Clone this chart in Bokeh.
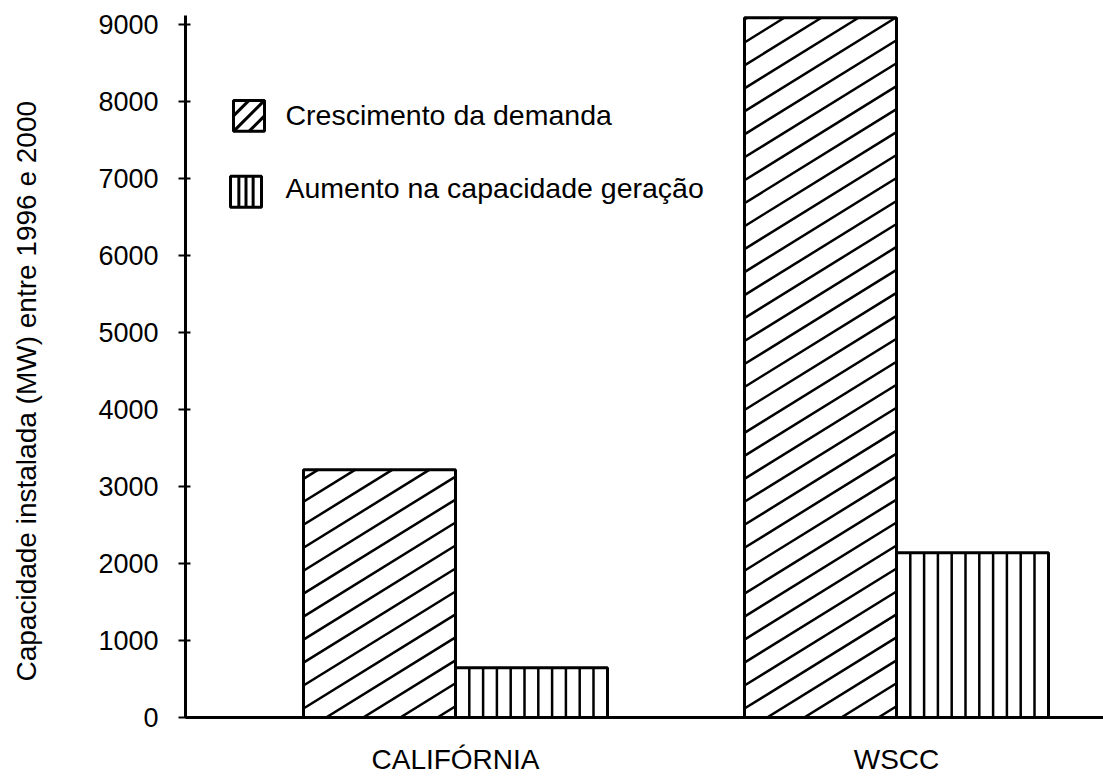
from bokeh.plotting import figure
from bokeh.models import Range1d, FixedTicker, Label, Title
from bokeh.embed import file_html
from bokeh.resources import INLINE

# ---------------- data ----------------
categories = ["CALIFÓRNIA", "WSCC"]
cat_pos = [1, 2]
demanda = [3220, 9090]          # Crescimento da demanda (MW)
geracao = [645, 2140]           # Aumento na capacidade geração (MW)
series_names = ["Crescimento da demanda", "Aumento na capacidade geração"]
y_ticks = [0, 1000, 2000, 3000, 4000, 5000, 6000, 7000, 8000, 9000]
y_title = "Capacidade instalada (MW) entre 1996 e 2000"

# ---------------- layout ----------------
W, H = 1103, 777
FL, FR, FT, FB = 185, 1103, 15, 718          # frame edges in figure px
frame_w, frame_h = FR - FL, FB - FT
X_PX = 441.0                                 # px per category unit
first_group_px = 270.0                       # first group center from frame left
x_start = cat_pos[0] - first_group_px / X_PX
x_end = x_start + frame_w / X_PX
y_end = 9120.0
Y_PX = frame_h / y_end
BAR_W = 152.0 / X_PX

FONT = "Liberation Sans"


def px2x(px):
    return x_start + (px - FL) / X_PX


def py2y(py):
    return (FB - py) / Y_PX


p = figure(width=W, height=H,
           x_range=Range1d(x_start, x_end), y_range=Range1d(0, y_end),
           output_backend="svg", toolbar_location=None,
           min_border_left=FL, min_border_right=W - FR,
           min_border_top=FT, min_border_bottom=H - FB)
p.outline_line_color = None
p.xgrid.grid_line_color = None
p.ygrid.grid_line_color = None
p.background_fill_color = "white"
p.border_fill_color = "white"

# y axis
ya = p.yaxis[0]
ya.ticker = FixedTicker(ticks=y_ticks, minor_ticks=[])
ya.axis_line_width = 3
ya.axis_line_color = "black"
ya.major_tick_line_width = 2
ya.major_tick_line_color = "black"
ya.major_tick_in = 5
ya.major_tick_out = 7
ya.minor_tick_line_color = None
ya.major_label_standoff = 20
ya.major_label_text_font = FONT
ya.major_label_text_font_size = "27px"
ya.major_label_text_color = "black"

# x axis with category names
xa = p.xaxis[0]
xa.ticker = FixedTicker(ticks=cat_pos, minor_ticks=[])
xa.major_label_overrides = {c: n for c, n in zip(cat_pos, categories)}
xa.axis_line_width = 3
xa.axis_line_color = "black"
xa.major_tick_line_color = None
xa.minor_tick_line_color = None
xa.major_tick_in = 0
xa.major_tick_out = 0
xa.major_label_text_font = FONT
xa.major_label_text_font_size = "28px"
xa.major_label_text_color = "black"
xa.major_label_standoff = 26

# y title on the left side (padding pushes it away from the axis)
p.add_layout(Title(text=y_title, align="left", offset=36, vertical_align="middle",
                   text_font=FONT, text_font_size="28px", text_font_style="normal",
                   text_color="black", standoff=0,
                   padding=dict(left=0, right=0, top=0, bottom=106)), "left")

# ---------------- bars ----------------
dem_left = [c - BAR_W for c in cat_pos]
dem_right = list(cat_pos)
gen_left = list(cat_pos)
gen_right = [c + BAR_W for c in cat_pos]

p.quad(left=dem_left, right=dem_right, bottom=[0] * len(demanda), top=demanda,
       fill_color="white", line_color=None)
p.quad(left=gen_left, right=gen_right, bottom=[0] * len(geracao), top=geracao,
       fill_color="white", line_color=None)

# diagonal hatch for demand bars
SLOPE = 0.62
DV = 23.0
C0 = -14.0
dx0, dy0, dx1, dy1 = [], [], [], []
for left, top in zip(dem_left, demanda):
    bw = BAR_W * X_PX
    bh = top * Y_PX
    k = -20
    while True:
        c = C0 + k * DV
        k += 1
        if c >= bh:
            break
        if c <= -SLOPE * bw:
            continue
        xlo = max(0.0, -c / SLOPE)
        xhi = min(bw, (bh - c) / SLOPE)
        if xhi <= xlo:
            continue
        dx0.append(left + xlo / X_PX)
        dy0.append((SLOPE * xlo + c) / Y_PX)
        dx1.append(left + xhi / X_PX)
        dy1.append((SLOPE * xhi + c) / Y_PX)
p.segment(x0=dx0, y0=dy0, x1=dx1, y1=dy1, line_color="black", line_width=2.5)

# vertical hatch for generation bars
VSP = 13.8
vx, vy0, vy1 = [], [], []
for left, top in zip(gen_left, geracao):
    bw = BAR_W * X_PX
    k = 1
    while k * VSP < bw - 4:
        vx.append(left + k * VSP / X_PX)
        vy0.append(0)
        vy1.append(top)
        k += 1
p.segment(x0=vx, y0=vy0, x1=vx, y1=vy1, line_color="black", line_width=2.5)

# outlines
p.quad(left=dem_left, right=dem_right, bottom=[0] * len(demanda), top=demanda,
       fill_color=None, line_color="black", line_width=3)
p.quad(left=gen_left, right=gen_right, bottom=[0] * len(geracao), top=geracao,
       fill_color=None, line_color="black", line_width=3)

# ---------------- legend (manual) ----------------
SW = 31.0
boxes = [(233.0, 100.0), (230.0, 176.0)]   # top-left of swatches, figure px
text_x = 285.0
text_base = [115.0, 188.0]

# swatch 1: diagonal strokes
bx, by = boxes[0]
lx0, ly0, lx1, ly1 = [], [], [], []
for c in (0.5 * SW, 0.0, -0.5 * SW):
    xlo = max(0.0, -c)
    xhi = min(SW, SW - c)
    lx0.append(px2x(bx + xlo)); ly0.append(py2y(by + SW - (xlo + c)))
    lx1.append(px2x(bx + xhi)); ly1.append(py2y(by + SW - (xhi + c)))
p.segment(x0=lx0, y0=ly0, x1=lx1, y1=ly1, line_color="black", line_width=3)

# swatch 2: vertical strokes
bx2, by2 = boxes[1]
sx = [px2x(bx2 + f * SW) for f in (0.27, 0.5, 0.73)]
p.segment(x0=sx, y0=[py2y(by2 + SW)] * 3, x1=sx, y1=[py2y(by2)] * 3,
          line_color="black", line_width=3)

p.quad(left=[px2x(b[0]) for b in boxes], right=[px2x(b[0] + SW) for b in boxes],
       top=[py2y(b[1]) for b in boxes], bottom=[py2y(b[1] + SW) for b in boxes],
       fill_color=None, line_color="black", line_width=3)

for name, yb in zip(series_names, text_base):
    p.add_layout(Label(x=px2x(text_x), y=py2y(yb), text=name,
                       text_font=FONT, text_font_size="28.5px", text_color="black",
                       text_align="left", text_baseline="alphabetic"))

open("out.html", "w").write(file_html(p, INLINE))
